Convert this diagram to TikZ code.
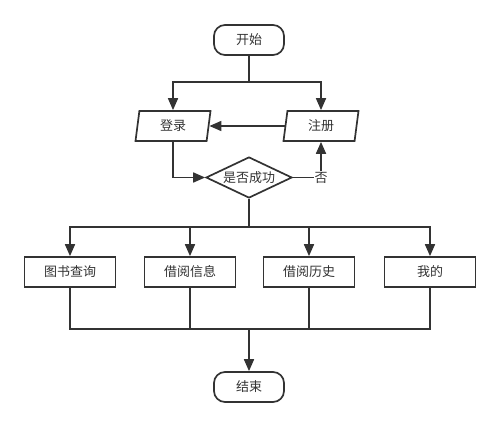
\documentclass[tikz,border=0pt]{standalone}
\usepackage{fontspec}
\newfontfamily\cjk{Noto Sans CJK SC}
\usetikzlibrary{shapes.geometric,arrows.meta}
\definecolor{ink}{HTML}{333333}
\tikzset{
  lbl/.style={text=ink, font=\cjk\fontsize{13}{15}\selectfont},
  base/.style={draw=ink, line width=1.7pt, lbl, inner sep=0pt},
  term/.style={base, rounded corners=11pt, minimum width=70pt, minimum height=30pt},
  io/.style={base, trapezium, trapezium left angle=72, trapezium right angle=108, trapezium stretches body, minimum width=75pt, minimum height=30pt},
  dec/.style={base, diamond, aspect=2, minimum width=86pt, minimum height=41pt},
  proc/.style={base, rectangle, minimum width=91pt, minimum height=30pt},
  line/.style={draw=ink, line width=1.7pt},
  arr/.style={line, -{Triangle[length=12pt,width=10pt]}},
}
\begin{document}
\begin{tikzpicture}[x=1pt,y=-1pt]
\useasboundingbox (0,0) rectangle (500,427);
\node[term] (start) at (249,40) {开始};
\node[io] (login) at (173,126) {登录};
\node[io] (reg) at (321,126) {注册};
\node[dec] (dec) at (249,177.5) {是否成功};
\node[proc] (b1) at (70,272) {图书查询};
\node[proc] (b2) at (190,272) {借阅信息};
\node[proc] (b3) at (309,272) {借阅历史};
\node[proc] (b4) at (430,272) {我的};
\node[term] (end) at (249,387) {结束};
\coordinate (s1) at (249,82);
\coordinate (s2) at (249,227);
\coordinate (m) at (249,329);
\draw[line] (start.south) -- (s1);
\draw[arr] (s1) -| (login.north);
\draw[arr] (s1) -| (reg.north);
\draw[arr] (reg) -- (login);
\draw[arr] (login.south) |- (dec.west);
\draw[arr] (dec.east) -| (reg.south) node[pos=0.5, fill=white, lbl, inner sep=1pt] (no) {否};
\draw[line] (dec.south) -- (s2);
\draw[arr] (s2) -| (b1.north);
\draw[arr] (s2) -| (b2.north);
\draw[arr] (s2) -| (b3.north);
\draw[arr] (s2) -| (b4.north);
\draw[line] (b1.south) |- (m);
\draw[line] (b2.south) |- (m);
\draw[line] (b3.south) |- (m);
\draw[line] (b4.south) |- (m);
\draw[arr] (m) -- (end.north);
\end{tikzpicture}
\end{document}
